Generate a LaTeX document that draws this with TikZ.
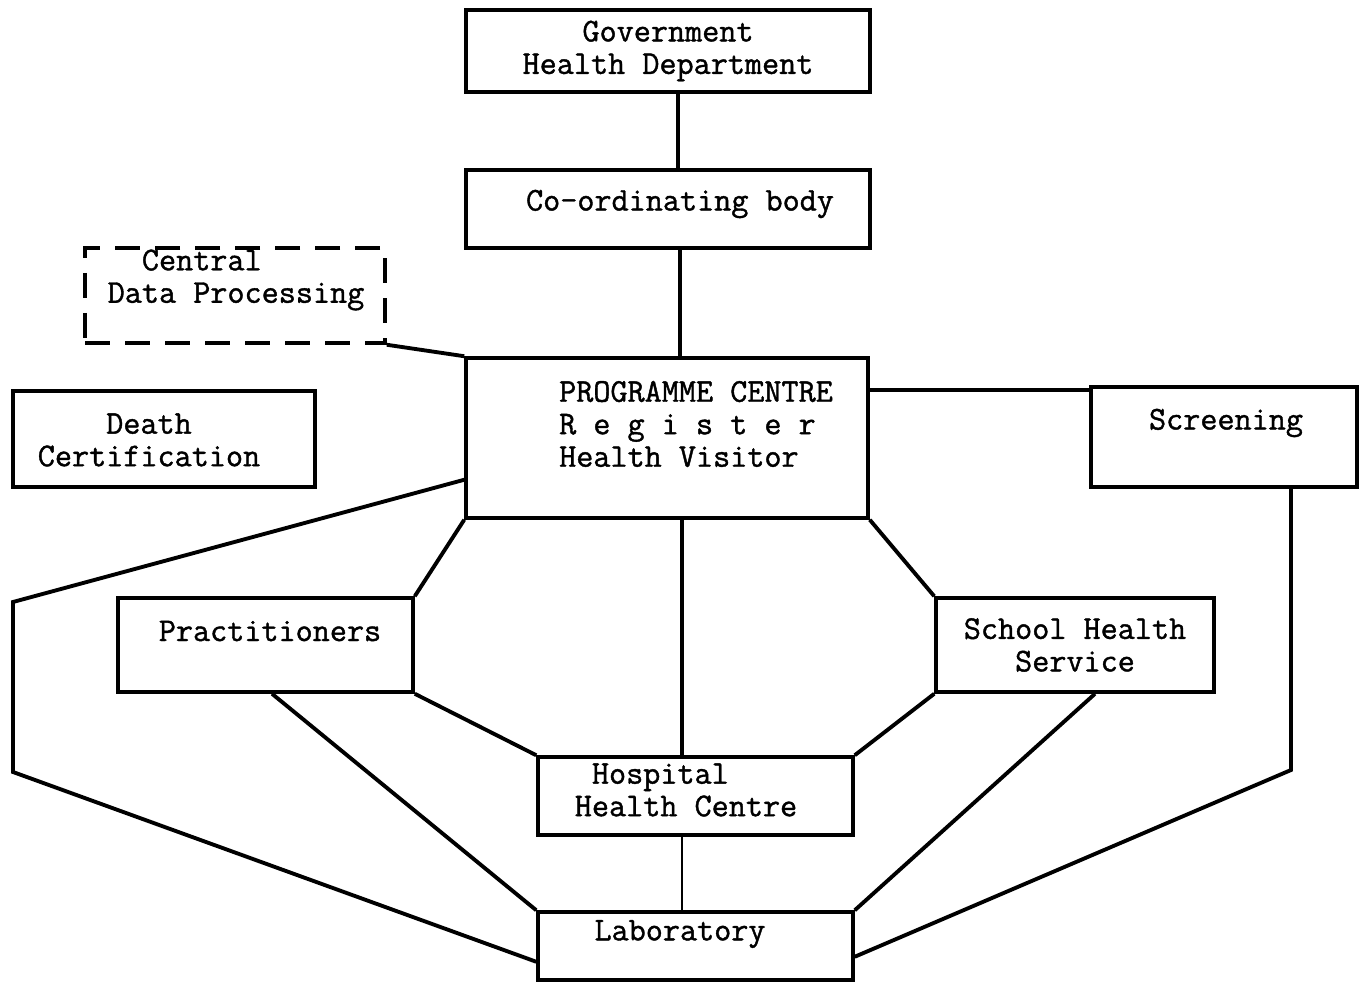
\documentclass[tikz,border=0pt]{standalone}
\usepackage{fontspec}
\newfontfamily\typew[FakeBold=1.2]{Latin Modern Mono}
\usetikzlibrary{positioning, calc}

\begin{document}
\begin{tikzpicture}[
    box/.style={draw, line width=2pt, minimum width=#1, inner sep=0pt},
    txt/.style={font=\typew\fontsize{18.9}{18.5}\selectfont, inner sep=0pt},
    link/.style={line width=2.2pt}]
  \useasboundingbox (0,0) rectangle (27.28,-19.64);
  % boxes
  \node[box=8.08cm, minimum height=1.64cm, txt, align=center] (gov) at (13.36,-1.02) {Government\\Health Department};
  \node[box=8.08cm, minimum height=1.56cm] (cob) at (13.36,-4.18) {};
  \node[txt] (cobt) at (13.6,-4.08) {Co-ordinating body};
  \node[box=6cm, minimum height=1.9cm, dash pattern=on 0.5cm off 0.3cm] (cdp) at (4.7,-5.91) {};
  \node[txt, align=left] (cdpt) at (4.72,-5.6) {\phantom{Da}Central\\Data Processing};
  \node[box=8.04cm, minimum height=3.2cm] (prog) at (13.34,-8.76) {};
  \node[txt, align=left] (progt) at (13.92,-8.48) {PROGRAMME CENTRE\\R e g i s t e r\\Health Visitor};
  \node[box=6.04cm, minimum height=1.92cm] (death) at (3.28,-8.78) {};
  \node[txt, align=center] (deatht) at (2.98,-8.8) {Death\\Certification};
  \node[box=5.32cm, minimum height=2cm] (scr) at (24.48,-8.74) {};
  \node[txt] (scrt) at (24.52,-8.46) {Screening};
  \node[box=5.9cm, minimum height=1.88cm] (prac) at (5.31,-12.9) {};
  \node[txt] (pract) at (5.4,-12.62) {Practitioners};
  \node[box=5.56cm, minimum height=1.88cm, txt, align=center] (shs) at (21.5,-12.9) {School Health\\Service};
  \node[box=6.3cm, minimum height=1.56cm] (hosp) at (13.91,-15.92) {};
  \node[txt, align=left] (hospt) at (13.72,-15.8) {\phantom{H}Hospital\\Health Centre};
  \node[box=6.3cm, minimum height=1.36cm] (lab) at (13.91,-18.92) {};
  \node[txt] (labt) at (13.6,-18.68) {Laboratory};
  % connectors
  \draw[link] ([xshift=0.2cm]gov.south) -- ([xshift=0.2cm]cob.north);
  \draw[link] ([xshift=0.24cm]cob.south) -- ([xshift=0.26cm]prog.north);
  \draw[link] (cdp.south east) -- (prog.north west);
  \draw[link] ([yshift=-0.68cm]prog.north east) coordinate (pe) -- (pe -| scr.west);
  \coordinate (l1) at (0.26,-12.04);
  \coordinate (l2) at (0.26,-15.44);
  \draw[link] ([yshift=0.8cm]prog.south west) -- (l1) -- (l2) -- ([yshift=0.4cm]lab.south west);
  \coordinate (r1) at (25.82,-15.4);
  \draw[link] (r1 |- scr.south) -- (r1) -- ([yshift=0.5cm]lab.south east);
  \draw[link] (prog.south west) -- (prac.north east);
  \draw[link] (prog.south east) -- (shs.north west);
  \draw[link] ([xshift=0.3cm]prog.south) coordinate (pm) -- (pm |- hosp.north);
  \draw[link] (prac.south east) -- (hosp.north west);
  \draw[link] (shs.south west) -- (hosp.north east);
  \draw[link] ([xshift=0.13cm]prac.south) -- (lab.north west);
  \draw[link] ([xshift=0.4cm]shs.south) -- (lab.north east);
  \draw[line width=1pt] (pm |- hosp.south) -- (pm |- lab.north);
\end{tikzpicture}
\end{document}
